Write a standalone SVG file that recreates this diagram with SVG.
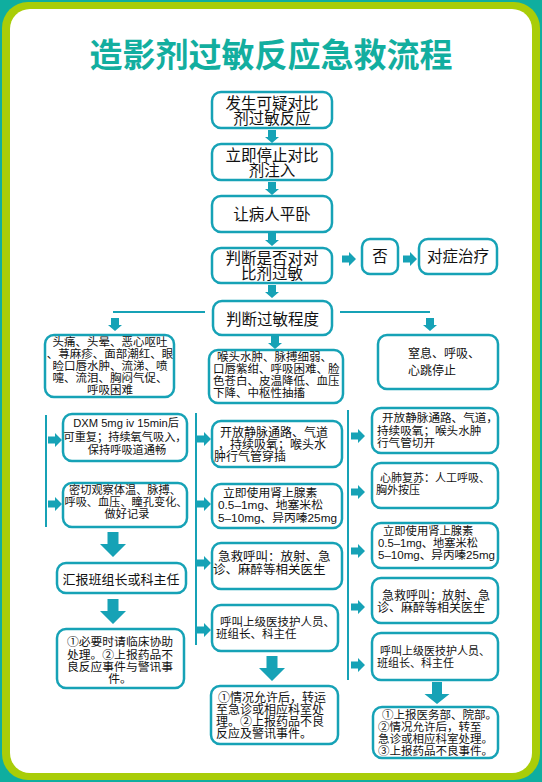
<svg xmlns="http://www.w3.org/2000/svg" xmlns:xlink="http://www.w3.org/1999/xlink" width="542" height="782" viewBox="0 0 542 782">
<style>
.bx{fill:#fff;stroke:#16A2B6;stroke-width:2.5}
.t{font-family:"Liberation Sans","Noto Sans CJK SC",sans-serif;fill:#111}
.m{font-size:15.5px;text-anchor:middle}
.c{text-anchor:middle}
.ln{stroke:#16A2B6;stroke-width:2;fill:none}
.ar{fill:#16A2B6}
.title{font-family:"Noto Sans CJK SC","Noto Sans",sans-serif;font-size:33px;font-weight:bold;fill:#12AE9F;text-anchor:middle}
</style>
<defs>
<path id="ad" d="M-4,0H4V7H7L0,13L-7,7H-4Z"/>
<path id="ar" d="M0,-3.5H7V-7L14,0L7,7V3.5H0Z"/>
<path id="bd" d="M-5.5,0H5.5V12H13L0,25L-13,12H-5.5Z"/>
<path id="bd2" d="M-5,0H5V12H12.5L0,22L-12.5,12H-5Z"/>
</defs>
<rect x="0" y="0" width="542" height="782" fill="#0FAE9F"/>
<rect x="2" y="2" width="538" height="778" rx="26" fill="#A9CD08"/>
<rect x="10" y="9" width="522" height="764" rx="20" fill="#fff"/>
<text class="title" x="271" y="67">造影剂过敏反应急救流程</text>

<g id="connectors" class="ar">
<use xlink:href="#ad" x="272" y="130"/>
<use xlink:href="#ad" x="272" y="182"/>
<use xlink:href="#ad" x="272" y="233"/>
<use xlink:href="#ad" x="272" y="285"/>
<use xlink:href="#ar" x="342" y="259"/>
<use xlink:href="#ar" x="403" y="259"/>
<line class="ln" x1="113" y1="312" x2="205" y2="312"/>
<line class="ln" x1="340" y1="312" x2="430" y2="312"/>
<use xlink:href="#ad" x="115" y="318"/>
<use xlink:href="#ad" x="430" y="318"/>
<use xlink:href="#ad" x="275" y="336"/>
<line class="ln" x1="46" y1="415" x2="46" y2="527"/>
<use xlink:href="#ar" x="48" y="440"/>
<use xlink:href="#ar" x="48" y="504"/>
<use xlink:href="#bd" x="113" y="532"/>
<use xlink:href="#bd" x="113" y="599"/>
<line class="ln" x1="196" y1="413" x2="196" y2="645"/>
<use xlink:href="#ar" x="197" y="439"/>
<use xlink:href="#ar" x="197" y="504"/>
<use xlink:href="#ar" x="197" y="563"/>
<use xlink:href="#ar" x="197" y="630"/>
<use xlink:href="#bd" x="272" y="656"/>
<line class="ln" x1="348" y1="410" x2="348" y2="680"/>
<use xlink:href="#ar" x="351" y="436"/>
<use xlink:href="#ar" x="351" y="492"/>
<use xlink:href="#ar" x="351" y="551"/>
<use xlink:href="#ar" x="351" y="607"/>
<use xlink:href="#ar" x="351" y="665"/>
<use xlink:href="#bd2" x="437" y="682"/>
</g>

<g id="n1"><rect class="bx" x="212" y="92" width="120" height="36" rx="9"/>
<text class="t m"><tspan x="272" y="108.5">发生可疑对比</tspan><tspan x="272" y="124">剂过敏反应</tspan></text></g>
<g id="n2"><rect class="bx" x="212" y="144" width="120" height="36" rx="9"/>
<text class="t m"><tspan x="272" y="160.5">立即停止对比</tspan><tspan x="272" y="176">剂注入</tspan></text></g>
<g id="n3"><rect class="bx" x="212" y="196" width="120" height="36" rx="9"/>
<text class="t m" x="272" y="220">让病人平卧</text></g>
<g id="n4"><rect class="bx" x="212" y="248" width="120" height="35" rx="9"/>
<text class="t m"><tspan x="272" y="263.5">判断是否对对</tspan><tspan x="272" y="279">比剂过敏</tspan></text></g>
<g id="n-no"><rect class="bx" x="362" y="239" width="36" height="35" rx="8"/>
<text class="t m" x="380" y="262">否</text></g>
<g id="n-treat"><rect class="bx" x="419" y="239" width="78" height="35" rx="9"/>
<text class="t m" x="458" y="262">对症治疗</text></g>
<g id="n5"><rect class="bx" x="213" y="301" width="119" height="34" rx="9"/>
<text class="t m" x="272.5" y="325">判断过敏程度</text></g>

<g id="mild"><rect class="bx" x="45" y="335" width="129" height="62" rx="9"/>
<text class="t c" font-size="11.5"><tspan x="110" y="346">头痛、头晕、恶心呕吐</tspan><tspan x="110" y="358">、荨麻疹、面部潮红、眼</tspan><tspan x="110" y="370">睑口唇水肿、流涕、喷</tspan><tspan x="110" y="382">嚏、流泪、胸闷气促、</tspan><tspan x="110" y="394">呼吸困难</tspan></text></g>

<g id="severe"><rect class="bx" x="209" y="350" width="134" height="53" rx="9"/>
<text class="t" font-size="11.5"><tspan x="217" y="361">喉头水肿、脉搏细弱、</tspan><tspan x="213" y="373">口唇紫绀、呼吸困难、脸</tspan><tspan x="213" y="385">色苍白、皮温降低、血压</tspan><tspan x="213" y="397">下降、中枢性抽搐</tspan></text></g>

<g id="critical"><rect class="bx" x="378" y="335" width="120" height="54" rx="9"/>
<text class="t" font-size="12"><tspan x="408" y="358">窒息、呼吸、</tspan><tspan x="408" y="375">心跳停止</tspan></text></g>

<g id="l1"><rect class="bx" x="63" y="414" width="124" height="47" rx="9"/>
<text class="t c" font-size="11.2"><tspan x="126" y="427">DXM 5mg iv 15min后</tspan><tspan x="125" y="441">可重复；持续氧气吸入，</tspan><tspan x="127" y="454">保持呼吸道通畅</tspan></text></g>
<g id="l2"><rect class="bx" x="63" y="483" width="124" height="44" rx="9"/>
<text class="t c" font-size="11.2"><tspan x="125" y="494">密切观察体温、脉搏、</tspan><tspan x="126" y="506">呼吸、血压、瞳孔变化、</tspan><tspan x="127" y="518">做好记录</tspan></text></g>
<g id="l3"><rect class="bx" x="57" y="563" width="129" height="30" rx="9"/>
<text class="t c" font-size="13" x="121" y="584">汇报班组长或科主任</text></g>
<g id="l4"><rect class="bx" x="57" y="629" width="127" height="59" rx="9"/>
<text class="t c" font-size="11.8"><tspan x="120" y="646">①必要时请临床协助</tspan><tspan x="120" y="658.5">处理。②上报药品不</tspan><tspan x="120" y="671">良反应事件与警讯事</tspan><tspan x="120" y="683">件。</tspan></text></g>

<g id="m1"><rect class="bx" x="212" y="421" width="130" height="46" rx="9"/>
<text class="t" font-size="12"><tspan x="220" y="437">开放静脉通路、气道</tspan><tspan x="218" y="449">，持续吸氧；喉头水</tspan><tspan x="214" y="461">肿行气管穿插</tspan></text></g>
<g id="m2"><rect class="bx" x="212" y="484" width="130" height="44" rx="9"/>
<text class="t" font-size="11.8"><tspan x="223" y="496.5">立即使用肾上腺素</tspan><tspan x="218" y="509" textLength="105" lengthAdjust="spacingAndGlyphs">0.5–1mg、地塞米松</tspan><tspan x="218" y="521.5" textLength="119" lengthAdjust="spacingAndGlyphs">5–10mg、异丙嗪25mg</tspan></text></g>
<g id="m3"><rect class="bx" x="212" y="543" width="130" height="46" rx="9"/>
<text class="t" font-size="12.5"><tspan x="218" y="561">急救呼叫：放射、急</tspan><tspan x="213" y="574">诊、麻醉等相关医生</tspan></text></g>
<g id="m4"><rect class="bx" x="212" y="605" width="126" height="46" rx="9"/>
<text class="t" font-size="11.5"><tspan x="220" y="626">呼叫上级医技护人员、</tspan><tspan x="216" y="638">班组长、科主任</tspan></text></g>
<g id="m5"><rect class="bx" x="211" y="686" width="127" height="58" rx="9"/>
<text class="t" font-size="12"><tspan x="218" y="702">①情况允许后，转运</tspan><tspan x="216" y="714">至急诊或相应科室处</tspan><tspan x="216" y="726">理。②上报药品不良</tspan><tspan x="216" y="738">反应及警讯事件。</tspan></text></g>

<g id="r1"><rect class="bx" x="372" y="408" width="126" height="45" rx="9"/>
<text class="t" font-size="11.6"><tspan x="382" y="422">开放静脉通路、气道，</tspan><tspan x="377" y="435">持续吸氧；喉头水肿</tspan><tspan x="377" y="447">行气管切开</tspan></text></g>
<g id="r2"><rect class="bx" x="372" y="463" width="126" height="45" rx="9"/>
<text class="t" font-size="11"><tspan x="380" y="482">心肺复苏：人工呼吸、</tspan><tspan x="376" y="494">胸外按压</tspan></text></g>
<g id="r3"><rect class="bx" x="372" y="523" width="126" height="45" rx="9"/>
<text class="t" font-size="11.3"><tspan x="383" y="535">立即使用肾上腺素</tspan><tspan x="378" y="547" textLength="100" lengthAdjust="spacingAndGlyphs">0.5–1mg、地塞米松</tspan><tspan x="378" y="559" textLength="117" lengthAdjust="spacingAndGlyphs">5–10mg、异丙嗪25mg</tspan></text></g>
<g id="r4"><rect class="bx" x="372" y="578" width="126" height="45" rx="9"/>
<text class="t" font-size="12"><tspan x="382" y="600">急救呼叫：放射、急</tspan><tspan x="377" y="612">诊、麻醉等相关医生</tspan></text></g>
<g id="r5"><rect class="bx" x="372" y="633" width="126" height="47" rx="9"/>
<text class="t" font-size="11"><tspan x="380" y="655">呼叫上级医技护人员、</tspan><tspan x="377" y="667">班组长、科主任</tspan></text></g>
<g id="r6"><rect class="bx" x="373" y="707" width="125" height="51" rx="9"/>
<text class="t" font-size="11.5"><tspan x="382" y="719">①上报医务部、院部。</tspan><tspan x="378" y="731">②情况允许后，转至</tspan><tspan x="378" y="743">急诊或相应科室处理。</tspan><tspan x="378" y="755">③上报药品不良事件。</tspan></text></g>
</svg>
